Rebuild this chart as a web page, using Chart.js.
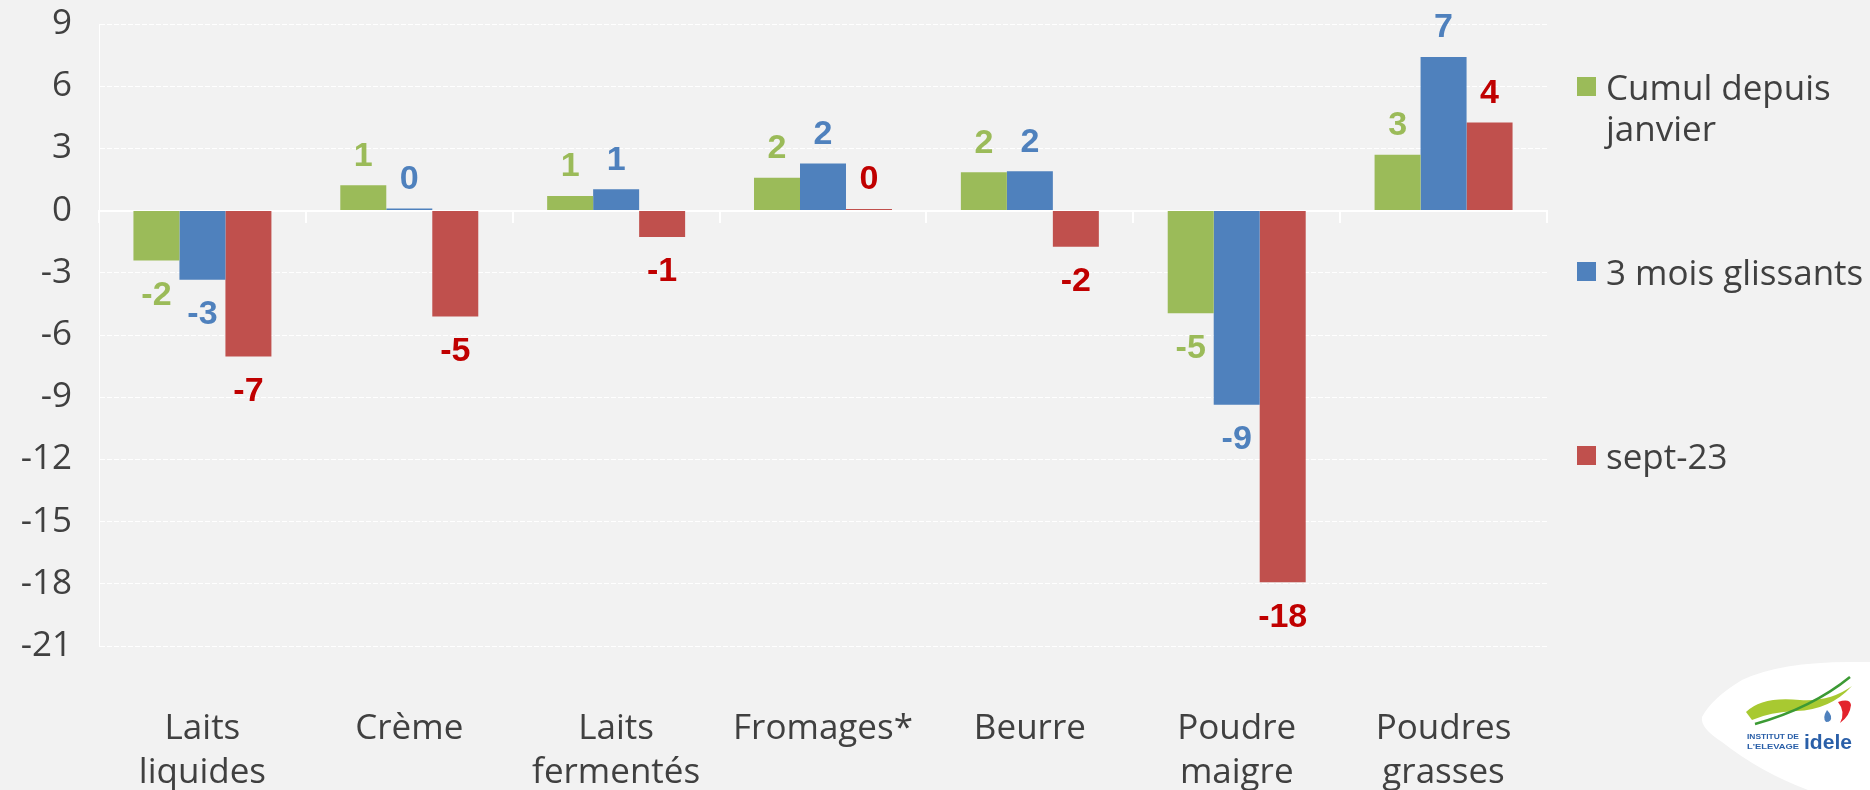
<!DOCTYPE html>
<html>
<head>
<meta charset="utf-8">
<script src="https://cdn.jsdelivr.net/npm/chart.js@4.4.0/dist/chart.umd.min.js"></script>
<style>
html,body{margin:0;padding:0;background:#f2f2f2;}
#wrap{position:relative;width:1870px;height:790px;overflow:hidden;background:#f2f2f2;}
#c{position:absolute;left:0;top:0;}
.legtxt{position:absolute;font-family:"Open Sans",Lato,sans-serif;font-size:35px;color:#404040;line-height:41px;width:262px;}
.sw{position:absolute;width:19px;height:19px;}
#logo{position:absolute;left:1700px;top:660px;}
</style>
</head>
<body>
<div id="wrap">
<canvas id="c" width="1870" height="790"></canvas>
<div id="legend"></div>
<svg id="logo" width="170" height="130" viewBox="0 0 170 130">
  <path d="M2,57 Q12,38 42,20 Q80,2 150,2 L170,2 L170,130 L108,130 Q60,112 22,82 Q0,68 2,57 Z" fill="#ffffff"/>
  <path d="M46,52 Q62,36 100,40 Q130,42 152,26 Q130,50 96,51 Q70,52 52,60 Z" fill="#a8c931"/>
  <path d="M55,64 Q112,48 150,17" stroke="#3c9a34" stroke-width="2.5" fill="none"/>
  <path d="M138,42 Q150,38 151,45 Q150,56 140,63 Q146,52 138,42 Z" fill="#e3232c"/>
  <path d="M127,50 Q122,58 126,62 Q132,62 131,56 Q130,53 127,50 Z" fill="#4f81bd"/>
  <text x="47" y="79" font-family="Liberation Sans Narrow,Liberation Sans,sans-serif" font-weight="bold" font-size="8" textLength="52" lengthAdjust="spacingAndGlyphs" fill="#2a5fa8">INSTITUT DE</text>
  <text x="47" y="89" font-family="Liberation Sans Narrow,Liberation Sans,sans-serif" font-weight="bold" font-size="8" textLength="52" lengthAdjust="spacingAndGlyphs" fill="#2a5fa8">L'ELEVAGE</text>
  <text x="104" y="89" font-family="Liberation Sans Narrow,Liberation Sans,sans-serif" font-weight="bold" font-size="21" textLength="48" lengthAdjust="spacingAndGlyphs" fill="#2a5fa8">idele</text>
</svg>
</div>
<script>
// ---- data ----
const categories = [["Laits","liquides"],["Crème"],["Laits","fermentés"],["Fromages*"],["Beurre"],["Poudre","maigre"],["Poudres","grasses"]];
const seriesNames = ["Cumul depuis janvier","3 mois glissants","sept-23"];
const cumulDepuisJanvier = [-2.41, 1.22, 0.71, 1.59, 1.85, -4.95, 2.69];
const troisMoisGlissants = [-3.34, 0.10, 1.03, 2.27, 1.90, -9.37, 7.41];
const sept23 = [-7.04, -5.11, -1.27, 0.08, -1.74, -17.93, 4.25];
const yMin = -21, yMax = 9, yStep = 3;

const barColors = ["#9bbb59","#4f81bd","#c0504d"];
const labelColors = ["#9bbb59","#4f81bd","#c00000"];
const seriesData = [cumulDepuisJanvier, troisMoisGlissants, sept23];

const axisFont = {family:'"Open Sans", Lato, sans-serif', size:35};

const valueLabels = {
  id:'valueLabels',
  afterDatasetsDraw(chart){
    const ctx = chart.ctx;
    chart.data.datasets.forEach((ds,i)=>{
      const meta = chart.getDatasetMeta(i);
      meta.data.forEach((bar,j)=>{
        const v = ds.data[j];
        const txt = String(Math.round(v));
        ctx.save();
        ctx.font = 'bold 34px "Liberation Sans", Arial, sans-serif';
        ctx.fillStyle = labelColors[i];
        ctx.textAlign = 'center';
        ctx.textBaseline = 'middle';
        const y = v >= 0 ? bar.y - 29 : bar.y + 35;
        ctx.fillText(txt, bar.x, y);
        ctx.restore();
      });
    });
  }
};

new Chart(document.getElementById('c'), {
  type:'bar',
  data:{
    labels: categories,
    datasets: seriesNames.map((n,i)=>({
      label:n, data:seriesData[i], backgroundColor:barColors[i], borderWidth:0,
      categoryPercentage:0.667, barPercentage:1
    }))
  },
  options:{
    responsive:false, animation:false,
    layout:{padding:{left:0,right:323,top:0,bottom:0}},
    plugins:{legend:{display:false}, tooltip:{enabled:false}},
    scales:{
      x:{
        type:'category', position:{y:0}, offset:true,
        grid:{display:true, drawOnChartArea:false, drawTicks:true, tickLength:11, color:'#ffffff', lineWidth:2, offset:true},
        border:{display:true, color:'#ffffff', width:2},
        ticks:{display:false}
      },
      x2:{
        type:'category', position:'bottom', labels:categories, offset:true,
        grid:{display:false}, border:{display:false},
        ticks:{padding:53, color:'#404040', font:Object.assign({lineHeight:'44px'}, axisFont), maxRotation:0, autoSkip:false},
        afterFit(s){ s.height = 144; }
      },
      y:{
        min:yMin, max:yMax,
        ticks:{stepSize:yStep, padding:27, color:'#404040', font:axisFont},
        grid:{color:'#ffffff', lineWidth:1, drawTicks:false},
        border:{display:true, color:'#ffffff', width:1, dash:(c)=> (c.tick && c.tick.value===0) ? [] : [5,2]},
        afterFit(s){ s.width = 99; s.paddingTop = 24; s.paddingBottom = 0; }
      }
    }
  },
  plugins:[valueLabels]
});

// ---- legend (HTML) ----
const legendCenters = [87, 272, 456];
const leg = document.getElementById('legend');
seriesNames.forEach((n,i)=>{
  const sw = document.createElement('div');
  sw.className='sw'; sw.style.left='1577px'; sw.style.top=(legendCenters[i]-10)+'px'; sw.style.background=barColors[i];
  leg.appendChild(sw);
  const t = document.createElement('div');
  t.className='legtxt'; t.style.left='1606px'; t.style.top=(legendCenters[i]-21)+'px'; t.textContent=n;
  leg.appendChild(t);
});
</script>
</body>
</html>
